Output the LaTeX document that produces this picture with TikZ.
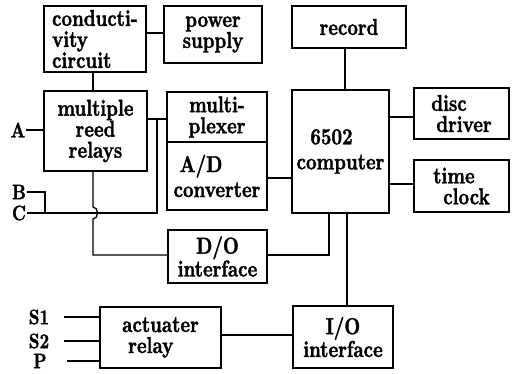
\documentclass[tikz,border=0pt]{standalone}
\usepackage{fontspec}
\newfontfamily\diafont{lmroman10-bold.otf}[FakeStretch=0.8,FakeBold=1.5]
\begin{document}
\begin{tikzpicture}[x=1pt,y=-1pt,
  box/.style={draw,line width=1.4pt,inner sep=0pt,align=center,font=\diafont\fontsize{23}{21}\selectfont},
  lbl/.style={inner sep=0.5pt,font=\diafont\fontsize{21}{21}\selectfont},
  wire/.style={line width=1.3pt}]
\useasboundingbox (0,0) rectangle (517,374);
% boxes
\node[box,minimum width=102pt,minimum height=66pt,align=left] (cond) at (95,39) {conducti-\\vity\\circuit};
\node[box,minimum width=98pt,minimum height=57pt] (pow) at (213,34.5) {power\\supply};
\node[box,minimum width=114pt,minimum height=42pt] (rec) at (349,27) {record};
\node[box,minimum width=103pt,minimum height=80pt] (rel) at (95.5,131) {multiple\\reed\\relays};
\node[box,minimum width=100pt,minimum height=50pt] (mux) at (217,117) {multi-\\plexer};
\node[box,minimum width=100pt,minimum height=68pt,font=\diafont\fontsize{23}{25}\selectfont] (ad) at (217,176) {A/D\hspace*{32pt}\\converter};
\node[box,minimum width=97pt,minimum height=123pt,font=\diafont\fontsize{23}{25}\selectfont] (cpu) at (340.5,151.5) {6502\hspace*{18pt}\\computer};
\node[box,minimum width=95pt,minimum height=51pt,align=left] (disc) at (461.5,113.5) {disc\\\hspace*{5pt}driver};
\node[box,minimum width=95pt,minimum height=52pt,align=left] (clk) at (461.5,186) {time\\\hspace*{10pt}clock};
\node[box,minimum width=99pt,minimum height=53pt] (do) at (217.5,256.5) {D/O\\interface};
\node[box,minimum width=121pt,minimum height=61pt,align=left] (act) at (160.5,337.5) {actuater\\\hspace*{6pt}relay};
\node[box,minimum width=100pt,minimum height=62pt] (io) at (343,337) {I/O\\interface};
% labels
\node[lbl] (A) at (18,130) {A};
\node[lbl] (B) at (19,192) {B};
\node[lbl] (C) at (19,213) {C};
\node[lbl] (S1) at (39,317) {S1};
\node[lbl] (S2) at (39,341) {S2};
\node[lbl] (P) at (40,361) {P};
% junction coordinates
\coordinate (yPow) at (0,33);
\coordinate (xCR) at (93,0);
\coordinate (xRec) at (345,0);
\coordinate (yDisc) at (0,117);
\coordinate (yClk) at (0,184);
\coordinate (yAD) at (0,178);
\coordinate (yMux) at (0,119);
\coordinate (jT) at (157,119);
\coordinate (jC) at (157,213);
\coordinate (jB) at (45,192);
\coordinate (jB2) at (45,213);
\coordinate (h1) at (93,207);
\coordinate (h2) at (93,219);
\coordinate (h3) at (93,255);
\coordinate (dR) at (329,255);
\coordinate (xIO) at (347,0);
\coordinate (yAct) at (0,335);
% wires
\draw[wire] (cond.east |- yPow) -- (pow.west |- yPow);
\draw[wire] (cond.south -| xCR) -- (rel.north -| xCR);
\draw[wire] (rec.south -| xRec) -- (cpu.north -| xRec);
\draw[wire] (cpu.east |- yDisc) -- (disc.west |- yDisc);
\draw[wire] (cpu.east |- yClk) -- (clk.west |- yClk);
\draw[wire] (ad.east |- yAD) -- (cpu.west |- yAD);
\draw[wire] (rel.east |- yMux) -- (mux.west |- yMux);
\draw[wire] (jT) -- (jC) -- (C.east);
\draw[wire] (B.east) -- (jB) -- (jB2);
\draw[wire] (A.east) -- (rel.west |- A);
\draw[wire] (rel.south -| xCR) -- (h1) .. controls (99,207) and (99,219) .. (h2) -- (h3) -- (do.west |- h3);
\draw[wire] (do.east |- dR) -- (dR) -- (cpu.south -| dR);
\draw[wire] (cpu.south -| xIO) -- (io.north -| xIO);
\draw[wire] (act.east |- yAct) -- (io.west |- yAct);
\draw[wire] ([xshift=14pt]S1.east) -- (act.west |- S1);
\draw[wire] ([xshift=14pt]S2.east) -- (act.west |- S2);
\draw[wire] ([xshift=20pt]P.east) -- (act.west |- P);
\end{tikzpicture}
\end{document}
